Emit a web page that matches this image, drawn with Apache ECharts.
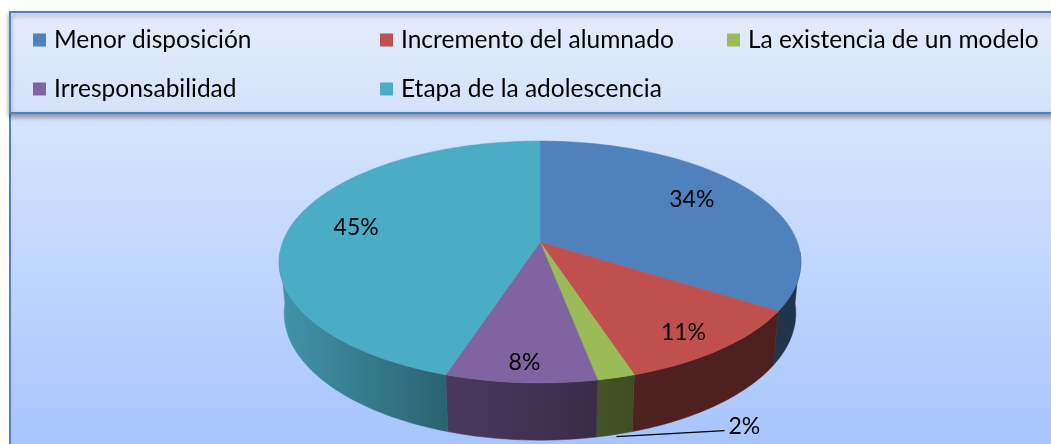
<!DOCTYPE html>
<html>
<head>
<meta charset="utf-8">
<script src="https://cdn.jsdelivr.net/npm/echarts@6/dist/echarts.min.js"></script>
<style>
  html, body { margin: 0; padding: 0; background: #fff; }
  #chart { width: 1051px; height: 444px; }
</style>
</head>
<body>
<div id="chart"></div>
<script>
const categories = [
  "Menor disposición",
  "Incremento del alumnado",
  "La existencia de un modelo",
  "Irresponsabilidad",
  "Etapa de la adolescencia"
];
const values = [34, 11, 2, 8, 45];
const colors = ["#4F81BD", "#C0504D", "#9BBB59", "#8064A2", "#4BACC6"];

// perspective view of the 3D disc
const view = { cx: 540, cy: 242, k: 1384, d: 5.38, tilt: 27.2, depth: 0.2255 };
const sinT = Math.sin(view.tilt * Math.PI / 180);
const cosT = Math.cos(view.tilt * Math.PI / 180);
const FONT = "Lato";

const total = values.reduce((s, v) => s + v, 0);
const starts = [];
values.reduce((acc, v, i) => { starts[i] = acc; return acc + v; }, 0);

// angle in degrees, clockwise from 12 o'clock
function project(a, r, z) {
  const rad = a * Math.PI / 180;
  const X = r * Math.sin(rad), Y = r * Math.cos(rad);
  const w = view.d + Y * cosT - z * sinT;
  return [view.cx + view.k * X / w, view.cy - view.k * (Y * sinT + z * cosT) / w];
}

function shade(hex, f) {
  const n = parseInt(hex.slice(1), 16);
  const r = Math.round(((n >> 16) & 255) * f);
  const g = Math.round(((n >> 8) & 255) * f);
  const b = Math.round((n & 255) * f);
  return "rgb(" + r + "," + g + "," + b + ")";
}

// side wall gets lighter towards the left
function wallFactor(a) {
  return 0.4 + 0.46 * Math.max(0, Math.min(1, (a - 160) / 100));
}

function arc(a0, a1, z) {
  const pts = [];
  for (let a = a0; ; a += 1) {
    const t = Math.min(a, a1);
    pts.push(project(t, 1, z));
    if (t >= a1) break;
  }
  return pts;
}

function makeRender(i) {
  return function (params, api) {
    const color = colors[i];
    const a0 = starts[i] / total * 360;
    const a1 = (starts[i] + api.value(0)) / total * 360;
    const children = [];

    // visible front wall
    const b0 = Math.max(a0, 95), b1 = Math.min(a1, 265);
    if (b1 > b0) {
      const upper = arc(b0, b1, 0);
      const lower = arc(b0, b1, -view.depth).reverse();
      const p0 = project(b0, 1, 0), p1 = project(b1, 1, 0);
      const grad = new echarts.graphic.LinearGradient(p0[0], 0, p1[0], 0, [
        { offset: 0, color: shade(color, wallFactor(b0)) },
        { offset: 1, color: shade(color, wallFactor(b1)) }
      ], true);
      children.push({
        type: "polygon",
        shape: { points: upper.concat(lower) },
        style: { fill: grad, stroke: grad, lineWidth: 0.5 }
      });
    }

    // top face
    children.push({
      type: "polygon",
      shape: { points: [project(0, 0, 0)].concat(arc(a0, a1, 0)) },
      style: { fill: color, stroke: color, lineWidth: 0.6 }
    });

    // label
    const pct = Math.round(api.value(0) / total * 100);
    const mid = (a0 + a1) / 2;
    const cosM = Math.cos(mid * Math.PI / 180);
    if (pct >= 5) {
      const p = project(mid, 0.75 - 0.08 * cosM, 0);
      children.push({
        type: "text",
        x: p[0],
        y: p[1] - cosM * 8,
        style: {
          text: pct + "%", fill: "#000", font: "23px " + FONT,
          align: "center", verticalAlign: "middle"
        }
      });
    } else {
      const p = project(mid, 1, -view.depth);
      const q = [p[0] + 110, p[1] - 4];
      children.push({
        type: "line",
        shape: { x1: p[0] + 2, y1: p[1] + 2, x2: q[0], y2: q[1] },
        style: { stroke: "#000", lineWidth: 1.2 }
      });
      children.push({
        type: "text",
        x: q[0] + 4,
        y: q[1] - 4,
        style: {
          text: pct + "%", fill: "#000", font: "23px " + FONT,
          align: "left", verticalAlign: "middle"
        }
      });
    }
    return { type: "group", children: children };
  };
}

const chart = echarts.init(document.getElementById("chart"), null, { renderer: "canvas" });

chart.setOption({
  animation: false,
  graphic: [
    {
      type: "rect", z: 0,
      shape: { x: 10, y: 12, width: 1070, height: 450 },
      style: {
        fill: new echarts.graphic.LinearGradient(0, 113, 0, 444, [
          { offset: 0, color: "#D7E5FE" },
          { offset: 1, color: "#A7C5FC" }
        ], true),
        stroke: "#4F81BD", lineWidth: 2
      }
    },
    {
      type: "rect", z: 1,
      shape: { x: 10, y: 12, width: 1070, height: 101 },
      style: {
        fill: new echarts.graphic.LinearGradient(0, 12, 0, 113, [
          { offset: 0, color: "#E2ECFC" },
          { offset: 1, color: "#D5E2FA" }
        ], true),
        stroke: "#4F81BD", lineWidth: 2,
        shadowBlur: 5, shadowOffsetY: 3, shadowColor: "rgba(0,0,0,0.35)"
      }
    }
  ],
  legend: {
    left: 33,
    top: 26.5,
    padding: 0,
    width: 1040,
    itemWidth: 13,
    itemHeight: 13,
    itemGap: 22,
    icon: "rect",
    formatter: name => "{g|}" + name,
    textStyle: {
      fontFamily: FONT, fontSize: 24.5, color: "#000",
      width: 307, lineHeight: 27,
      rich: { g: { width: 3 } }
    },
    data: categories
  },
  series: categories.map((name, i) => ({
    type: "custom",
    name: name,
    coordinateSystem: "none",
    itemStyle: { color: colors[i] },
    renderItem: makeRender(i),
    data: [values[i]]
  }))
});
</script>
</body>
</html>
